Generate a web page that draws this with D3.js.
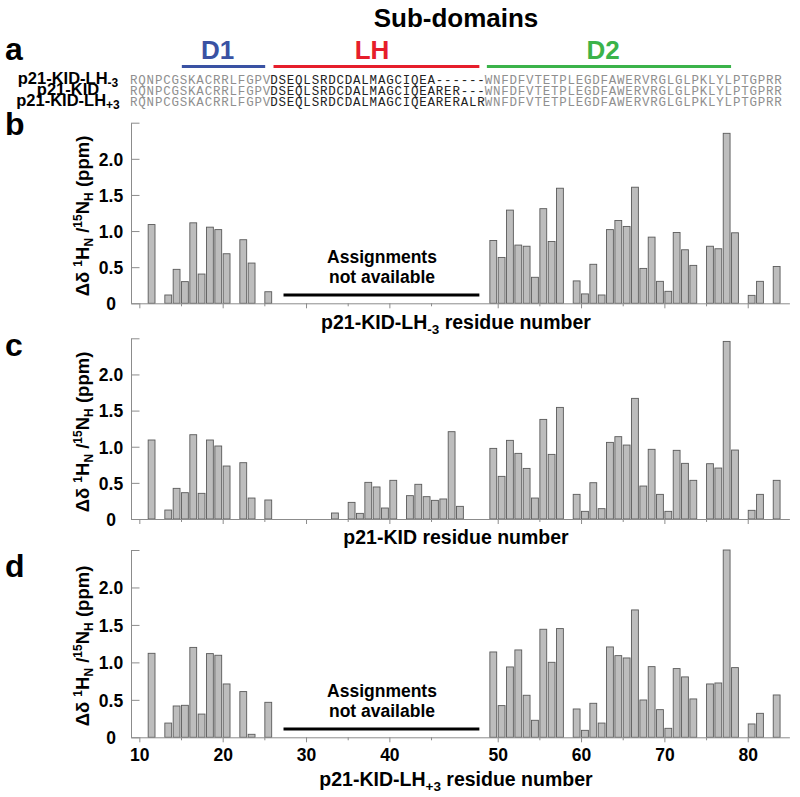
<!DOCTYPE html>
<html><head><meta charset="utf-8">
<script src="https://cdn.jsdelivr.net/npm/d3@7"></script>
<style>body{margin:0;background:#fff}</style>
</head><body><svg id="c" width="800" height="797"></svg>
<script>
// ---------------- data ----------------
const residuesSparse = [11,13,14,15,16,17,18,19,20,22,23,25,
  49,50,51,52,53,54,55,56,57,59,60,61,62,63,64,65,66,67,68,69,70,71,72,73,75,76,77,78,80,81,83];
const residuesKID = [11,13,14,15,16,17,18,19,20,22,23,25,
  33,35,36,37,38,39,40,42,43,44,45,46,47,48,
  49,50,51,52,53,54,55,56,57,59,60,61,62,63,64,65,66,67,68,69,70,71,72,73,75,76,77,78,80,81,83];
const valuesLHm3 = [1.09,0.115,0.47,0.30,1.114,0.405,1.054,1.02,0.686,0.88,0.557,0.16,
  0.87,0.635,1.29,0.806,0.79,0.36,1.31,0.856,1.593,
  0.31,0.13,0.54,0.115,1.02,1.146,1.064,1.607,0.483,0.916,0.304,0.166,0.98,0.741,0.525,
  0.79,0.755,2.353,0.976,0.11,0.304,0.51];
const valuesKID = [1.093,0.124,0.424,0.364,1.166,0.355,1.093,1.01,0.733,0.779,0.29,0.263,
  0.083,0.23,0.078,0.507,0.443,0.152,0.535,0.323,0.48,0.309,0.258,0.277,1.208,0.175,
  0.977,0.59,1.088,0.908,0.70,0.29,1.378,0.894,1.544,
  0.341,0.106,0.502,0.143,1.06,1.139,1.023,1.669,0.456,0.964,0.341,0.106,0.95,0.77,0.535,
  0.765,0.705,2.457,0.954,0.12,0.341,0.535];
const valuesLHp3 = [1.121,0.19,0.418,0.427,1.20,0.31,1.117,1.095,0.712,0.61,0.04,0.467,
  1.139,0.423,0.939,1.166,0.561,0.227,1.442,1.001,1.451,
  0.378,0.093,0.454,0.19,1.206,1.09,1.059,1.70,0.498,0.943,0.369,0.12,0.917,0.806,0.512,
  0.712,0.725,2.50,0.93,0.178,0.32,0.565];

const yTicks = [0,0.5,1.0,1.5,2.0,2.5];
const xMajorTicks = [10,20,30,40,50,60,70,80];
const xMinorTicks = [15,25,35,45,55,65,75];

const seqLabels = ["p21-KID-LH","p21-KID","p21-KID-LH"];
const seqSubs = ["-3","","+3"];
const seqD1 = "RQNPCGSKACRRLFGPV";
const seqLH = ["DSEQLSRDCDALMAGCIQEA------","DSEQLSRDCDALMAGCIQEARER---","DSEQLSRDCDALMAGCIQEARERALR"];
const seqD2 = "WNFDFVTETPLEGDFAWERVRGLGLPKLYLPTGPRR";

const domainNames = ["D1","LH","D2"];
const domainColors = ["#3a52a3","#e61e2b","#3bb34a"];
const domainStartCol = [6.1,17.1,42.7];
const domainEndCol = [16.1,41.8,72.0];

// ---------------- drawing ----------------
const FONT = '"Liberation Sans", Arial, Helvetica, sans-serif';
const svg = d3.select("#c").style("font-family", FONT);
const xc = d3.scaleLinear().domain([0,79]).range([131,789.4]);
const xr = d3.scaleLinear().domain([9,48,49,85]).range([xc(0),xc(39),xc(43),xc(79)]);
const unit = xc(1)-xc(0);
const AX = "#8c8c8c";

// title
svg.append("text").attr("x",456).attr("y",27).attr("text-anchor","middle")
  .attr("font-size",26).attr("font-weight","bold").text("Sub-domains");

// panel letters
[["a",60],["b",135],["c",356],["d",577]].forEach(([t,y])=>{
  svg.append("text").attr("x",5).attr("y",y).attr("font-size",32).attr("font-weight","bold").text(t);
});

// domain bars
const labelCx = [217.5,372,603];
domainNames.forEach((n,i)=>{
  svg.append("line").attr("x1",xc(domainStartCol[i])).attr("x2",xc(domainEndCol[i]))
    .attr("y1",66.5).attr("y2",66.5).attr("stroke",domainColors[i]).attr("stroke-width",3);
  svg.append("text").attr("x",labelCx[i]).attr("y",59).attr("text-anchor","middle")
    .attr("font-size",26).attr("font-weight","bold").attr("fill",domainColors[i]).text(n);
});

// sequences
const rowY = [84,95,106];
const charW = 8.25;
seqLabels.forEach((lab,i)=>{
  const t = svg.append("text").attr("x",68).attr("y",rowY[i]).attr("text-anchor","middle")
    .attr("font-size",16.5).attr("font-weight","bold");
  t.append("tspan").text(lab);
  if (seqSubs[i]) t.append("tspan").attr("font-size",12).attr("dy",3).text(seqSubs[i]);
  const segs = [[seqD1,"#8f8f8f",0],[seqLH[i],"#222",seqD1.length],[seqD2,"#8f8f8f",seqD1.length+seqLH[i].length]];
  segs.forEach(([s,col,start])=>{
    svg.append("text").attr("x",130+start*charW).attr("y",rowY[i])
      .attr("font-family",'"Liberation Mono","Courier New",monospace').attr("font-size",12.5)
      .attr("fill",col).attr("textLength",s.length*charW).attr("lengthAdjust","spacing")
      .text(s);
  });
});

const panels = [
  {res:residuesSparse, val:valuesLHm3, top:122.7, bottom:303.3, na:true, labels:false,
   title:["p21-KID-LH","-3"," residue number"], titleY:329, yTitleC:216},
  {res:residuesKID, val:valuesKID, top:338.3, bottom:519, na:false, labels:false,
   title:["p21-KID","",""," residue number"], titleY:544, yTitleC:432},
  {res:residuesSparse, val:valuesLHp3, top:550, bottom:737.3, na:true, labels:true,
   title:["p21-KID-LH","+3"," residue number"], titleY:786, yTitleC:646},
];

panels.forEach(p=>{
  const y = d3.scaleLinear().domain([0,2.5]).range([p.bottom,p.top]);
  const g = svg.append("g");
  // bars
  g.selectAll("rect").data(d3.zip(p.res,p.val)).join("rect")
    .attr("x",d=>xr(d[0])+0.5).attr("width",unit*0.82)
    .attr("y",d=>y(d[1])).attr("height",d=>y(0)-y(d[1]))
    .attr("fill","#bdbdbd").attr("stroke","#5a5a5a").attr("stroke-width",0.9);
  // x axis
  const gx = g.append("g").attr("transform",`translate(0,${p.bottom})`);
  gx.call(d3.axisBottom(xr).tickValues(xMajorTicks).tickSizeInner(5).tickSizeOuter(0)
      .tickPadding(6).tickFormat(p.labels? d3.format("d") : ()=>""));
  const gxm = g.append("g").attr("transform",`translate(0,${p.bottom})`);
  gxm.call(d3.axisBottom(xr).tickValues(xMinorTicks).tickSizeInner(3).tickSizeOuter(0).tickFormat(()=>""));
  gxm.select(".domain").remove();
  [gx,gxm].forEach(a=>{
    a.selectAll("path,line").attr("stroke",AX);
    a.selectAll("text").attr("font-family",FONT).attr("font-size",17.5).attr("font-weight","bold").attr("fill","#000");
  });
  // y axis
  const gy = g.append("g").attr("transform",`translate(${xc(0)},0)`);
  gy.call(d3.axisLeft(y).tickValues(yTicks).tickSizeInner(-8.5).tickSizeOuter(0)
      .tickFormat(v=> v===0 ? "0" : (v===2.5 ? "" : d3.format(".1f")(v))));
  gy.selectAll("path,line").attr("stroke",AX);
  gy.selectAll("text").attr("x",-20).attr("text-anchor","middle").attr("dy","0.36em")
    .attr("font-family",FONT).attr("font-size",17.5).attr("font-weight","bold").attr("fill","#000");
  // y title
  const yt = svg.append("text").attr("transform",`translate(89,${p.yTitleC}) rotate(-90)`)
    .attr("text-anchor","middle").attr("font-size",18.5).attr("font-weight","bold");
  yt.append("tspan").text("Δδ ");
  yt.append("tspan").attr("font-size",12).attr("dy",-7).text("1");
  yt.append("tspan").attr("dy",7).text("H");
  yt.append("tspan").attr("font-size",12).attr("dy",4).text("N");
  yt.append("tspan").attr("dy",-4).text(" /");
  yt.append("tspan").attr("font-size",12).attr("dy",-7).text("15");
  yt.append("tspan").attr("dy",7).text("N");
  yt.append("tspan").attr("font-size",12).attr("dy",4).text("H");
  yt.append("tspan").attr("dy",-4).text(" (ppm)");
  // x title
  const xt = svg.append("text").attr("x",456).attr("y",p.titleY).attr("text-anchor","middle")
    .attr("font-size",19.5).attr("font-weight","bold");
  xt.append("tspan").text(p.title[0]);
  if (p.title[1]) {
    xt.append("tspan").attr("font-size",13.5).attr("dy",5).text(p.title[1]);
    xt.append("tspan").attr("dy",-5).text(p.title[2]);
  } else {
    xt.append("tspan").text(p.title[3]);
  }
  // not available annotation
  if (p.na) {
    g.append("line").attr("x1",xr(27.3)).attr("x2",xc(41.8))
      .attr("y1",p.bottom-8.2).attr("y2",p.bottom-8.2).attr("stroke","#000").attr("stroke-width",3);
    g.append("text").attr("x",382).attr("y",p.bottom-40.5).attr("text-anchor","middle")
      .attr("font-size",17.5).attr("font-weight","bold").text("Assignments");
    g.append("text").attr("x",382).attr("y",p.bottom-20.5).attr("text-anchor","middle")
      .attr("font-size",17.5).attr("font-weight","bold").text("not available");
  }
});
</script></body></html>
